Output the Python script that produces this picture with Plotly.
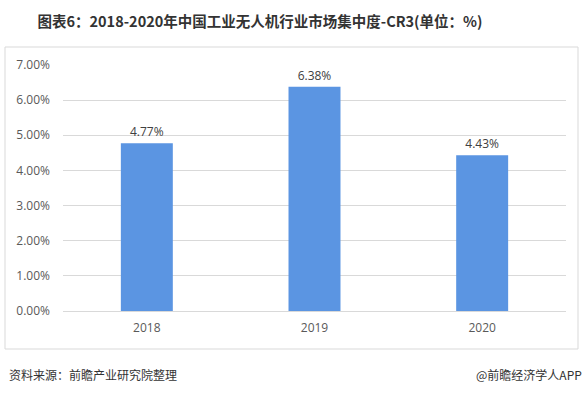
import plotly.graph_objects as go

years = ["2018", "2019", "2020"]
cr3 = [4.77, 6.38, 4.43]
y_ticks = [0, 1, 2, 3, 4, 5, 6, 7]
y_tick_labels = ["0.00%", "1.00%", "2.00%", "3.00%", "4.00%", "5.00%", "6.00%", "7.00%"]

W, H = 588, 394
ml, mr, mt, mb = 63, 22, 65, 83
PW, PH = W - ml - mr, H - mt - mb

def fx(x):
    return (x - ml) / PW

def fy(y):
    return (H - mb - y) / PH

fig = go.Figure()
fig.add_trace(go.Bar(
    x=years, y=cr3,
    marker=dict(color="#5B95E2", line=dict(width=0)),
    text=[f"{v:.2f}%" for v in cr3],
    textposition="outside",
    textfont=dict(family="Open Sans, DejaVu Sans", size=12, color="#404040"),
    cliponaxis=False,
    width=0.31,
))

fig.update_layout(
    width=W, height=H,
    margin=dict(l=ml, r=mr, t=mt, b=mb),
    paper_bgcolor="white", plot_bgcolor="white",
    showlegend=False,
    title=dict(
        text="<b>图表6：2018-2020年中国工业无人机行业市场集中度-CR3(单位：%)</b>",
        x=260 / W, xanchor="center", y=1 - 22 / H, yanchor="middle",
        font=dict(family="Noto Sans CJK SC", size=14.5, color="#333333"),
    ),
    xaxis=dict(
        showgrid=False, showline=False, ticks="", ticklabelstandoff=8,
        tickfont=dict(family="Open Sans, DejaVu Sans", size=12, color="#595959"),
        fixedrange=True,
    ),
    yaxis=dict(
        range=[0, 7], tickvals=y_ticks, ticktext=y_tick_labels,
        showgrid=True, gridcolor="#D9D9D9", gridwidth=1,
        zeroline=True, zerolinecolor="#D9D9D9", zerolinewidth=1,
        showline=False, ticks="", ticklabelstandoff=12,
        tickfont=dict(family="Open Sans, DejaVu Sans", size=12, color="#595959"),
        fixedrange=True,
    ),
    shapes=[
        dict(type="rect", xref="paper", yref="paper",
             x0=fx(5), x1=fx(578), y0=fy(349), y1=fy(47),
             line=dict(color="#D9D9D9", width=1), layer="below"),
    ],
    annotations=[
        dict(text="资料来源：前瞻产业研究院整理", xref="paper", yref="paper",
             x=fx(7), y=fy(374), xanchor="left", yanchor="middle", showarrow=False,
             font=dict(family="Noto Sans CJK SC", size=12, color="#333333")),
        dict(text="@前瞻经济学人APP", xref="paper", yref="paper",
             x=fx(584), y=fy(374), xanchor="right", yanchor="middle", showarrow=False,
             font=dict(family="Noto Sans CJK SC", size=12, color="#333333")),
    ],
)

fig.write_html("out.html", config={"displayModeBar": False},
               post_script="document.body.style.margin='0';")
